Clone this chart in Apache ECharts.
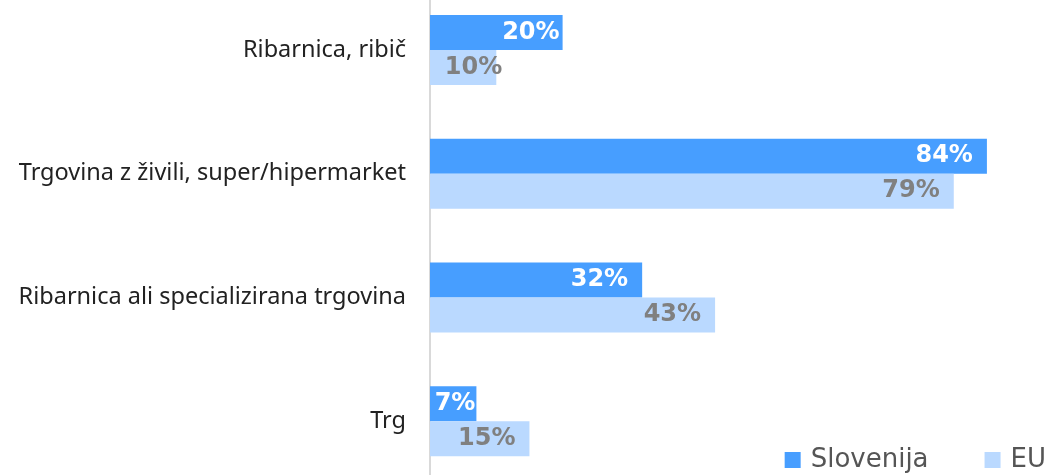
<!DOCTYPE html>
<html>
<head>
<meta charset="utf-8">
<script src="https://cdn.jsdelivr.net/npm/echarts@6/dist/echarts.min.js"></script>
<style>
  html, body { margin: 0; padding: 0; background: #fff; }
  #container { width: 1051px; height: 475px; }
</style>
</head>
<body>
<div id="container"></div>
<script>
var categories = ['Ribarnica, ribič', 'Trgovina z živili, super/hipermarket', 'Ribarnica ali specializirana trgovina', 'Trg'];
var slovenia = [20, 84, 32, 7];
var eu = [10, 79, 43, 15];

// label distance tweaks for the short bars (as in the original)
var sloLabelDist = { 0: 3, 3: 1 };
var euLabelDist = { 0: -6 };

window.onload = function () {
    var myChart = echarts.init(document.getElementById('container'));
    var font = 'Noto Sans, DejaVu Sans, sans-serif';
    var boldFont = 'DejaVu Sans, sans-serif';

    function items(values, dists) {
        return values.map(function (v, i) {
            var d = { value: v };
            if (dists[i] !== undefined) d.label = { distance: dists[i] };
            return d;
        });
    }

    var option = {
        animation: false,
        textStyle: { fontFamily: font },
        legend: {
            data: ['Slovenija', 'EU'],
            right: 0,
            bottom: -3,
            itemWidth: 16,
            itemHeight: 16,
            itemGap: 56,
            icon: 'rect',
            textStyle: { fontSize: 26, color: '#555', fontFamily: boldFont, padding: [0, 0, 0, 5] }
        },
        grid: {
            left: 430,
            top: -12,
            width: 663,
            height: 495,
            containLabel: false,
            outerBoundsMode: 'none'
        },
        xAxis: {
            type: 'value',
            min: 0,
            max: 100,
            show: false
        },
        yAxis: {
            type: 'category',
            data: categories,
            inverse: true,
            axisLine: { show: true, lineStyle: { color: '#d9d9d9', width: 2 } },
            axisTick: { show: false },
            axisLabel: { fontSize: 23.5, color: '#222', margin: 24, fontFamily: font }
        },
        series: [{
            name: 'Slovenija',
            type: 'bar',
            data: items(slovenia, sloLabelDist),
            barWidth: 35,
            barGap: '0%',
            itemStyle: { color: '#479EFF' },
            label: {
                show: true,
                position: 'insideRight',
                distance: 14,
                formatter: '{c}%',
                color: '#fff',
                fontWeight: 'bold',
                fontSize: 24,
                fontFamily: boldFont
            }
        }, {
            name: 'EU',
            type: 'bar',
            data: items(eu, euLabelDist),
            barWidth: 35,
            barGap: '0%',
            itemStyle: { color: '#BAD9FF' },
            label: {
                show: true,
                position: 'insideRight',
                distance: 14,
                formatter: '{c}%',
                color: '#808080',
                fontWeight: 'bold',
                fontSize: 24,
                fontFamily: boldFont
            }
        }]
    };
    myChart.setOption(option, true);
};
</script>
</body>
</html>
